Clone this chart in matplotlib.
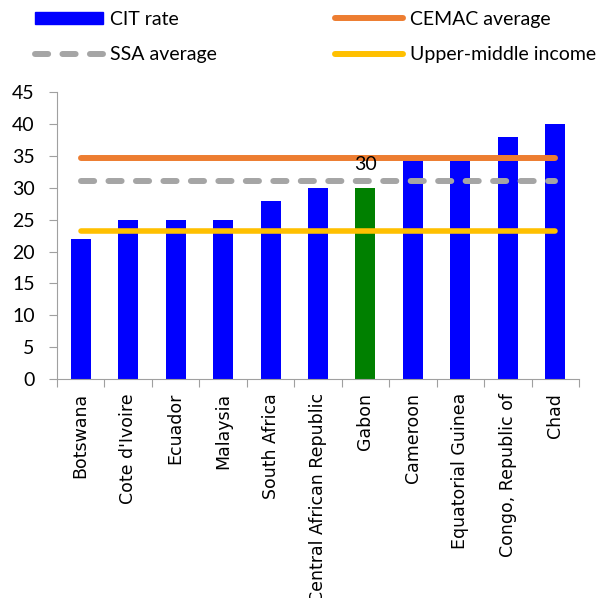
import matplotlib
matplotlib.use("Agg")
import matplotlib.pyplot as plt
from matplotlib.patches import Patch
from matplotlib.lines import Line2D
import numpy as np

plt.rcParams['font.family'] = ['Lato', 'DejaVu Sans']

countries = ["Botswana", "Cote d'Ivoire", "Ecuador", "Malaysia", "South Africa",
             "Central African Republic", "Gabon", "Cameroon", "Equatorial Guinea",
             "Congo, Republic of", "Chad"]
cit_rate = [22, 25, 25, 25, 28, 30, 30, 35, 35, 38, 40]
cemac_avg = 34.67
ssa_avg = 31.0
umi_avg = 23.2
highlight = "Gabon"

blue = "#0000FF"
green = "#008000"
orange = "#ED7D31"
grey = "#A5A5A5"
yellow = "#FFC000"

fig = plt.figure(figsize=(6.0, 5.98), dpi=100)
ax = fig.add_axes([0.095, 0.366, 0.87, 0.48])

x = np.arange(len(countries))
colors = [green if c == highlight else blue for c in countries]
ax.bar(x, cit_rate, width=0.42, color=colors, zorder=2)

n = len(countries)
ssa_dash = (2.2, 2.4)
ax.plot(x, [cemac_avg] * n, color=orange, lw=4.3, solid_capstyle='round', zorder=3)
ax.plot(x, [ssa_avg] * n, color=grey, lw=4.3, dashes=ssa_dash,
        dash_capstyle='round', zorder=3)
ax.plot(x, [umi_avg] * n, color=yellow, lw=4.0, solid_capstyle='round', zorder=3)

# data label on the highlighted bar
gi = countries.index(highlight)
ax.text(gi, 33.7, str(cit_rate[gi]), ha='center', va='center', fontsize=14)

ax.set_xlim(-0.5, n - 0.5)
ax.set_ylim(0, 45)
ax.set_yticks(np.arange(0, 46, 5))
ax.set_xticks(np.arange(-0.5, n, 1.0), minor=False)
ax.set_xticklabels([])
ax.set_xticks(x, minor=True)
ax.set_xticklabels(countries, minor=True, rotation=90, fontsize=12.5,
                   family='DejaVu Sans')
ax.tick_params(axis='x', which='minor', length=0, pad=10)
ax.tick_params(axis='x', which='major', length=6, color='#A0A0A0', direction='out')
ax.tick_params(axis='y', length=6, color='#A0A0A0', labelsize=14, pad=10)

for s in ['top', 'right']:
    ax.spines[s].set_visible(False)
for s in ['left', 'bottom']:
    ax.spines[s].set_color('#A0A0A0')

handles = [Patch(color=blue, label="CIT rate"),
           Line2D([0], [0], color=grey, lw=4.3, dashes=ssa_dash,
                  dash_capstyle='round', label="SSA average"),
           Line2D([0], [0], color=orange, lw=4.3, solid_capstyle='round',
                  label="CEMAC average"),
           Line2D([0], [0], color=yellow, lw=4.3, solid_capstyle='round',
                  label="Upper-middle income")]
fig.legend(handles=handles, ncol=2, loc='upper left', bbox_to_anchor=(0.045, 0.995),
           frameon=False, fontsize=14, handlelength=3.5, handleheight=0.55,
           handletextpad=0.36, columnspacing=6.1, labelspacing=0.95,
           borderaxespad=0.0)

fig.savefig("out.png", dpi=100)
